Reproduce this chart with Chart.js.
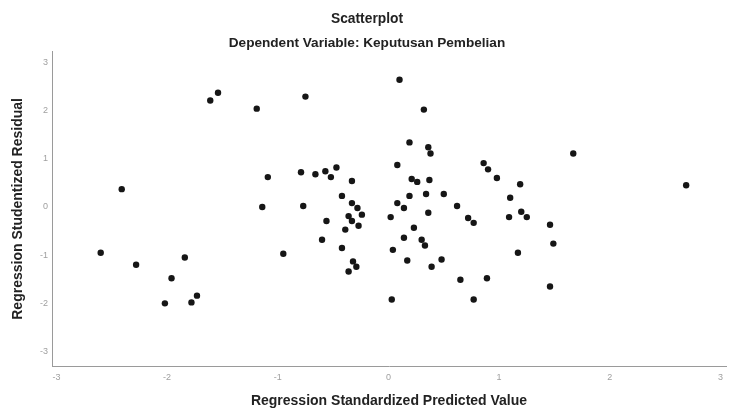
<!DOCTYPE html>
<html><head><meta charset="utf-8">
<script src="https://cdn.jsdelivr.net/npm/chart.js@4"></script>
<style>html,body{margin:0;padding:0;background:#fff}#wrap{width:734px;height:410px}</style>
</head><body><div id="wrap"><canvas id="c" width="734" height="410"></canvas></div>
<script>
const titleText = "Scatterplot";
const subtitleText = "Dependent Variable: Keputusan Pembelian";
const xAxisTitle = "Regression Standardized Predicted Value";
const yAxisTitle = "Regression Studentized Residual";
const xTicks = [-3, -2, -1, 0, 1, 2, 3];
const yTicks = [-3, -2, -1, 0, 1, 2, 3];
const xValues = [
  -2.41, -1.61, -1.54, -1.19, -0.75, -1.09, -0.79, -0.66, -0.57, -0.52,
  -0.47, -0.33, -0.42, -0.33, -0.28, -1.14, -0.77, 0.10, 0.32, 0.19,
  0.36, 0.38, 0.08, 1.67, 0.86, 0.90, 0.98, 1.19, 2.69, 0.21,
  0.26, 0.37, 0.19, 0.34, 0.50, 1.10, 0.62, 0.08, 0.14, -2.60,
  -2.28, -1.84, -1.96, -1.73, -1.78, -2.02, -0.95, -0.24, -0.36, -0.33,
  -0.56, -0.27, -0.39, -0.60, -0.42, -0.32, -0.29, -0.36, 0.02, 0.36,
  1.09, 1.20, 1.25, 1.46, 0.72, 0.77, 0.23, 0.14, 0.30, 0.33,
  0.04, 1.49, 1.17, 0.17, 0.48, 0.39, 0.65, 0.89, 1.46, 0.03,
  0.77
];
const yValues = [
  0.37, 2.21, 2.37, 2.04, 2.29, 0.62, 0.72, 0.68, 0.74, 0.62,
  0.82, 0.54, 0.23, 0.08, -0.02, 0.00, 0.02, 2.64, 2.02, 1.34,
  1.24, 1.11, 0.87, 1.11, 0.91, 0.78, 0.60, 0.47, 0.45, 0.58,
  0.52, 0.56, 0.23, 0.27, 0.27, 0.19, 0.02, 0.08, -0.02, -0.95,
  -1.20, -1.05, -1.48, -1.84, -1.98, -2.00, -0.97, -0.16, -0.19, -0.29,
  -0.29, -0.39, -0.47, -0.68, -0.85, -1.13, -1.24, -1.34, -0.21, -0.12,
  -0.21, -0.10, -0.21, -0.37, -0.23, -0.33, -0.43, -0.64, -0.68, -0.80,
  -0.89, -0.76, -0.95, -1.11, -1.09, -1.24, -1.51, -1.48, -1.65, -1.92,
  -1.92
];
const points = xValues.map((x, i) => ({ x: x, y: yValues[i] }));

const fam = "'Liberation Sans', Arial, sans-serif";
new Chart(document.getElementById('c'), {
  type: 'scatter',
  data: { datasets: [{
    data: points,
    backgroundColor: '#161616',
    borderColor: '#161616',
    pointRadius: 3.2,
    pointHoverRadius: 3.2,
    borderWidth: 0
  }]},
  options: {
    responsive: false,
    animation: false,
    events: [],
    layout: { padding: { left: 8, right: 8, top: 0, bottom: 0 } },
    plugins: {
      legend: { display: false },
      tooltip: { enabled: false },
      title: { display: true, text: titleText, color: '#222',
        font: { family: fam, size: 13.8, weight: 'bold' }, padding: { top: 10.7, bottom: 8.2 } },
      subtitle: { display: true, text: subtitleText, color: '#222',
        font: { family: fam, size: 13.6, weight: 'bold' }, padding: { top: 0, bottom: 0 } }
    },
    scales: {
      x: {
        type: 'linear', min: -3.04, max: 3.05,
        afterBuildTicks: s => { s.ticks = xTicks.map(v => ({ value: v })); },
        afterFit: s => { s.height = 44; },
        grid: { display: false, drawTicks: false },
        border: { display: true, color: '#9a9a9a', width: 1 },
        ticks: { padding: 6, color: '#a0a0a0', font: { family: fam, size: 9 }, maxRotation: 0,
          callback: v => String(v) },
        title: { display: true, text: xAxisTitle, color: '#222',
          font: { family: fam, size: 14, weight: 'bold' }, padding: { top: 0, bottom: 0 } }
      },
      y: {
        type: 'linear', min: -3.3, max: 3.22,
        afterBuildTicks: s => { s.ticks = yTicks.map(v => ({ value: v })); },
        afterFit: s => { s.width = 44; },
        grid: { display: false, drawTicks: false },
        border: { display: true, color: '#9a9a9a', width: 1 },
        ticks: { padding: 4, color: '#a0a0a0', font: { family: fam, size: 9 },
          callback: v => String(v) },
        title: { display: true, text: yAxisTitle, color: '#222',
          font: { family: fam, size: 14, weight: 'bold' }, padding: { top: 1.6, bottom: 0 } }
      }
    }
  }
});
</script>
</body></html>
